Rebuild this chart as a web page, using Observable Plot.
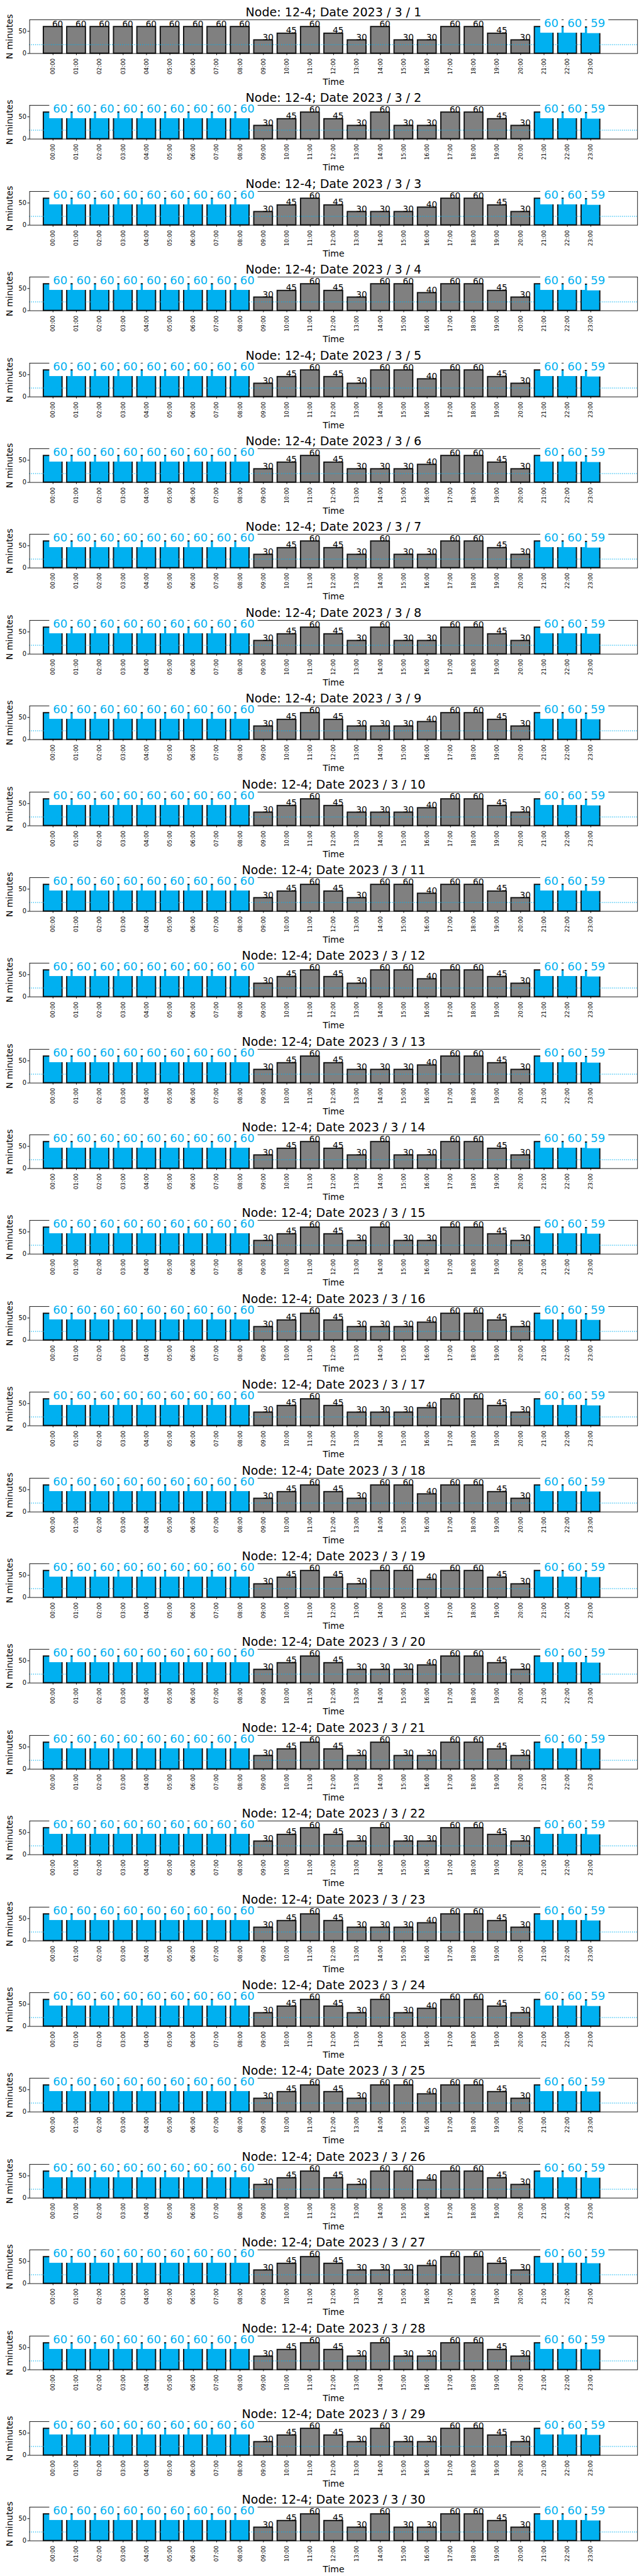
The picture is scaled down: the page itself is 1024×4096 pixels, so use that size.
<!DOCTYPE html>
<html>
<head>
<meta charset="utf-8">
<script src="https://cdn.jsdelivr.net/npm/d3@7"></script>
<script src="https://cdn.jsdelivr.net/npm/@observablehq/plot@0.6"></script>
<style>
  body { margin: 0; background: #fff; }
  #chart { width: 1023px; }
  #chart svg { display: block; }
</style>
</head>
<body>
<div id="chart"></div>
<script>
// ---------- data ----------
const hours = ["00:00","01:00","02:00","03:00","04:00","05:00","06:00","07:00","08:00","09:00","10:00","11:00",
               "12:00","13:00","14:00","15:00","16:00","17:00","18:00","19:00","20:00","21:00","22:00","23:00"];
const node = "12-4";
const year = 2023, month = 3;
const days = [1,2,3,4,5,6,7,8,9,10,11,12,13,14,15,16,17,18,19,20,21,22,23,24,25,26,27,28,29,30];

const d01 = [60,60,60,60,60,60,60,60,60,30,45,60,45,30,60,30,30,60,60,45,30,60,60,59];
const d02 = [60,60,60,60,60,60,60,60,60,30,45,60,45,30,60,30,30,60,60,45,30,60,60,59];
const d03 = [60,60,60,60,60,60,60,60,60,30,45,60,45,30,30,30,40,60,60,45,30,60,60,59];
const d04 = [60,60,60,60,60,60,60,60,60,30,45,60,45,30,60,60,40,60,60,45,30,60,60,59];
const d05 = [60,60,60,60,60,60,60,60,60,30,45,60,45,30,60,60,40,60,60,45,30,60,60,59];
const d06 = [60,60,60,60,60,60,60,60,60,30,45,60,45,30,30,30,40,60,60,45,30,60,60,59];
const d07 = [60,60,60,60,60,60,60,60,60,30,45,60,45,30,60,30,30,60,60,45,30,60,60,59];
const d08 = [60,60,60,60,60,60,60,60,60,30,45,60,45,30,60,30,30,60,60,45,30,60,60,59];
const d09 = [60,60,60,60,60,60,60,60,60,30,45,60,45,30,30,30,40,60,60,45,30,60,60,59];
const d10 = [60,60,60,60,60,60,60,60,60,30,45,60,45,30,30,30,40,60,60,45,30,60,60,59];
const d11 = [60,60,60,60,60,60,60,60,60,30,45,60,45,30,60,60,40,60,60,45,30,60,60,59];
const d12 = [60,60,60,60,60,60,60,60,60,30,45,60,45,30,60,60,40,60,60,45,30,60,60,59];
const d13 = [60,60,60,60,60,60,60,60,60,30,45,60,45,30,30,30,40,60,60,45,30,60,60,59];
const d14 = [60,60,60,60,60,60,60,60,60,30,45,60,45,30,60,30,30,60,60,45,30,60,60,59];
const d15 = [60,60,60,60,60,60,60,60,60,30,45,60,45,30,60,30,30,60,60,45,30,60,60,59];
const d16 = [60,60,60,60,60,60,60,60,60,30,45,60,45,30,30,30,40,60,60,45,30,60,60,59];
const d17 = [60,60,60,60,60,60,60,60,60,30,45,60,45,30,30,30,40,60,60,45,30,60,60,59];
const d18 = [60,60,60,60,60,60,60,60,60,30,45,60,45,30,60,60,40,60,60,45,30,60,60,59];
const d19 = [60,60,60,60,60,60,60,60,60,30,45,60,45,30,60,60,40,60,60,45,30,60,60,59];
const d20 = [60,60,60,60,60,60,60,60,60,30,45,60,45,30,30,30,40,60,60,45,30,60,60,59];
const d21 = [60,60,60,60,60,60,60,60,60,30,45,60,45,30,60,30,30,60,60,45,30,60,60,59];
const d22 = [60,60,60,60,60,60,60,60,60,30,45,60,45,30,60,30,30,60,60,45,30,60,60,59];
const d23 = [60,60,60,60,60,60,60,60,60,30,45,60,45,30,30,30,40,60,60,45,30,60,60,59];
const d24 = [60,60,60,60,60,60,60,60,60,30,45,60,45,30,60,30,40,60,60,45,30,60,60,59];
const d25 = [60,60,60,60,60,60,60,60,60,30,45,60,45,30,60,60,40,60,60,45,30,60,60,59];
const d26 = [60,60,60,60,60,60,60,60,60,30,45,60,45,30,60,60,40,60,60,45,30,60,60,59];
const d27 = [60,60,60,60,60,60,60,60,60,30,45,60,45,30,30,30,40,60,60,45,30,60,60,59];
const d28 = [60,60,60,60,60,60,60,60,60,30,45,60,45,30,60,30,30,60,60,45,30,60,60,59];
const d29 = [60,60,60,60,60,60,60,60,60,30,45,60,45,30,60,30,30,60,60,45,30,60,60,59];
const d30 = [60,60,60,60,60,60,60,60,60,30,45,60,45,30,60,30,30,60,60,45,30,60,60,59];
const minutesByDay = [d01,d02,d03,d04,d05,d06,d07,d08,d09,d10,d11,d12,d13,d14,d15,
                      d16,d17,d18,d19,d20,d21,d22,d23,d24,d25,d26,d27,d28,d29,d30];

// hours drawn in blue (highlighted) — first day only evening, other days night + evening
const blueHoursFirstDay = ["21:00","22:00","23:00"];
const blueHoursOtherDays = ["00:00","01:00","02:00","03:00","04:00","05:00","06:00","07:00","08:00",
                            "21:00","22:00","23:00"];
const thresholdMinutes = 20;
const yTicks = [0, 50];

// ---------- styles ----------
const S = 0.682;
const BLUE = "#00b0f0";
const GREY = "#808080";
const EDGE = "#111111";
const FONT = "DejaVu Sans";

const W = 1500 * S, H = 200 * S;
const mL = 68.3 * S, mR = (1500 - 1485.7) * S, mT = 45.3 * S, mB = (200 - 124) * S;

const blueFont = 26.5 * S;
const bluePad = 0.3 * blueFont;
const digitW = 0.636 * blueFont;

function panel(day, vals, blueSet) {
  const data = hours.map((h, i) => ({i, h, v: vals[i], blue: blueSet.includes(h)}));
  const grey = data.filter(d => !d.blue);
  const blue = data.filter(d => d.blue);
  const title = `Node: ${node}; Date ${year} / ${month} / ${day}`;
  return Plot.plot({
    width: W, height: H,
    marginLeft: mL, marginRight: mR, marginTop: mT, marginBottom: mB,
    x: {type: "linear", domain: [-1, 25], axis: null},
    y: {type: "linear", domain: [0, 76], axis: null},
    style: {fontFamily: FONT, background: "white", overflow: "visible", color: "black"},
    marks: [
      Plot.rect(data, {
        x1: d => d.i - 0.4, x2: d => d.i + 0.4, y1: 0, y2: "v",
        fill: d => d.blue ? BLUE : GREY, stroke: EDGE, strokeWidth: 2.8 * S
      }),
      Plot.ruleY([thresholdMinutes], {stroke: BLUE, strokeWidth: 2.2 * S, strokeDasharray: `${1.5 * S},${3.2 * S}`}),
      Plot.frame({stroke: "black", strokeWidth: 1.3 * S}),
      Plot.axisX({
        ticks: data.map(d => d.i), tickFormat: i => hours[i], tickRotate: -90,
        tickSize: 4.3 * S, tickPadding: 7 * S, fontSize: 13 * S, label: null, stroke: "black"
      }),
      Plot.axisY({ticks: yTicks, tickSize: 4.5 * S, tickPadding: 3 * S, fontSize: 14.5 * S, label: null}),
      Plot.text(["N minutes"], {
        frameAnchor: "left", textAnchor: "middle", lineAnchor: "middle", rotate: -90,
        dx: -(68.3 - 22.3) * S, fontSize: 20.5 * S
      }),
      Plot.text(["Time"], {frameAnchor: "bottom", textAnchor: "middle", lineAnchor: "bottom", dy: 73 * S, fontSize: 20.5 * S}),
      Plot.text(grey, {
        x: "i", y: "v", text: d => String(d.v), textAnchor: "start", lineAnchor: "bottom",
        dx: -2 * S, fontSize: 20 * S, fill: "black"
      }),
      Plot.rect(blue, {
        x1: "i", x2: "i", y1: "v", y2: "v",
        insetLeft: -bluePad, insetRight: -(2 * digitW + bluePad),
        insetTop: -(0.76 * blueFont + bluePad), insetBottom: -(0.24 * blueFont + bluePad),
        fill: "white"
      }),
      Plot.text(blue, {
        x: "i", y: "v", text: d => String(d.v), textAnchor: "start", lineAnchor: "bottom",
        fontSize: blueFont, fill: BLUE
      }),
      Plot.text([title], {
        frameAnchor: "top", textAnchor: "middle", lineAnchor: "bottom",
        dy: -(45.3 - 36.7) * S, fontSize: 28 * S, fill: "black"
      })
    ]
  });
}

const root = document.getElementById("chart");
days.forEach((day, k) => {
  const blueSet = k === 0 ? blueHoursFirstDay : blueHoursOtherDays;
  root.appendChild(panel(day, minutesByDay[k], blueSet));
});
</script>
</body>
</html>
